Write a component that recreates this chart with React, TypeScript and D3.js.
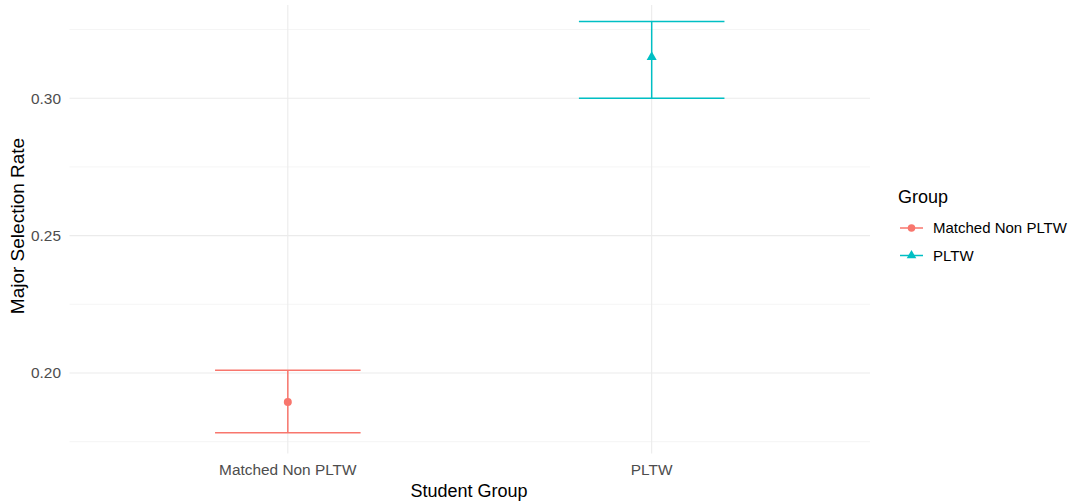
import React from "react";
import * as d3 from "d3";

const categories = ["Matched Non PLTW", "PLTW"];
const means = [0.1894, 0.315];
const lowers = [0.1782, 0.3];
const uppers = [0.201, 0.3279];
const colors = ["#F8766D", "#00BFC4"];
const yTicks = [0.2, 0.25, 0.3];
const yMinor = [0.175, 0.225, 0.275, 0.325];

const W = 1073, H = 503;
const panel = { left: 69.5, right: 870, top: 1, bottom: 453.4 };
const font = "'Liberation Sans', Arial, sans-serif";

export default function App() {
  const lo = d3.min(lowers)!, hi = d3.max(uppers)!;
  const pad = (hi - lo) * 0.05;
  const y = d3.scaleLinear().domain([lo - pad, hi + pad]).range([panel.bottom, panel.top]);
  // discrete x with 0.6 expansion each side: categories at 1..n within [0.4, n+0.6]
  const xs = d3.scaleLinear().domain([0.4, categories.length + 0.6]).range([panel.left, panel.right]);
  const xc = (i: number) => xs(i + 1);
  const halfW = 0.2 * (xs(1) - xs(0));
  const sym = [d3.symbol(d3.symbolCircle, 50)(), d3.symbol(d3.symbolTriangle, 44)()];
  const symLeg = [d3.symbol(d3.symbolCircle, 44)(), d3.symbol(d3.symbolTriangle, 40)()];
  return (
    <div style={{ position: "fixed", left: 0, top: 0, width: W, height: H }}>
      <svg width={W} height={H} style={{ display: "block", background: "#fff" }}>
        {yMinor.map((t) => (
          <line key={"mi" + t} x1={panel.left} x2={panel.right} y1={y(t)} y2={y(t)} stroke="#f2f2f2" strokeWidth={0.8} />
        ))}
        {yTicks.map((t) => (
          <line key={"ma" + t} x1={panel.left} x2={panel.right} y1={y(t)} y2={y(t)} stroke="#ebebeb" strokeWidth={1.1} />
        ))}
        {categories.map((c, i) => (
          <line key={"v" + c} x1={xc(i)} x2={xc(i)} y1={panel.top + 4} y2={panel.bottom} stroke="#ebebeb" strokeWidth={1.1} />
        ))}
        {categories.map((c, i) => (
          <g key={"e" + c} stroke={colors[i]} strokeWidth={1.5} fill="none">
            <line x1={xc(i) - halfW} x2={xc(i) + halfW} y1={y(uppers[i])} y2={y(uppers[i])} />
            <line x1={xc(i) - halfW} x2={xc(i) + halfW} y1={y(lowers[i])} y2={y(lowers[i])} />
            <line x1={xc(i)} x2={xc(i)} y1={y(uppers[i])} y2={y(lowers[i])} />
          </g>
        ))}
        {categories.map((c, i) => (
          <path key={"p" + c} d={sym[i]!} transform={`translate(${xc(i)},${y(means[i])})`} fill={colors[i]} />
        ))}
        {yTicks.map((t) => (
          <text key={"yl" + t} x={61} y={y(t)} dy="0.35em" textAnchor="end" fontFamily={font} fontSize={15.4} fill="#4d4d4d">
            {d3.format(".2f")(t)}
          </text>
        ))}
        {categories.map((c, i) => (
          <text key={"xl" + c} x={xc(i)} y={470} dy="0.35em" textAnchor="middle" fontFamily={font} fontSize={15.4} fill="#4d4d4d">
            {c}
          </text>
        ))}
        <text x={469} y={490.5} dy="0.35em" textAnchor="middle" fontFamily={font} fontSize={18} fill="#000">
          Student Group
        </text>
        <text transform={`translate(17.5,226) rotate(-90)`} dy="0.35em" textAnchor="middle" fontFamily={font} fontSize={19} fill="#000">
          Major Selection Rate
        </text>
        <text x={898} y={197} dy="0.35em" fontFamily={font} fontSize={18} fill="#000">Group</text>
        {categories.map((c, i) => (
          <g key={"lg" + c} transform={`translate(0,${228 + i * 27.5})`}>
            <line x1={900} x2={923} y1={0} y2={0} stroke={colors[i]} strokeWidth={1.5} />
            <path d={symLeg[i]!} transform="translate(911.5,0)" fill={colors[i]} />
            <text x={933} y={0} dy="0.35em" fontFamily={font} fontSize={15} fill="#000">{c}</text>
          </g>
        ))}
      </svg>
    </div>
  );
}
